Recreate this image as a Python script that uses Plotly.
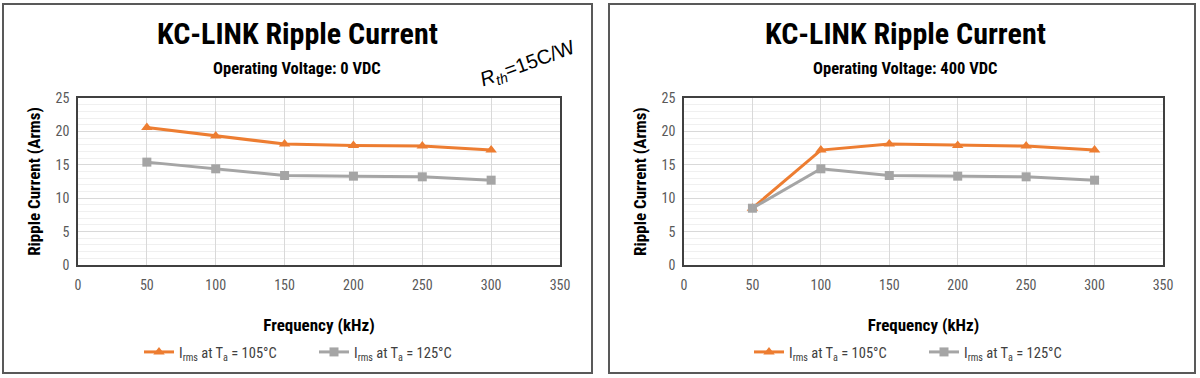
import plotly.graph_objects as go

freq = [50, 100, 150, 200, 250, 300]
left_105 = [20.6, 19.3, 18.1, 17.9, 17.8, 17.2]
left_125 = [15.4, 14.4, 13.4, 13.3, 13.2, 12.7]
right_105 = [8.5, 17.2, 18.1, 17.9, 17.8, 17.2]
right_125 = [8.5, 14.4, 13.4, 13.3, 13.2, 12.7]
titles = ["KC-LINK Ripple Current", "KC-LINK Ripple Current"]
subtitles = ["Operating Voltage: 0 VDC", "Operating Voltage: 400 VDC"]
name_105 = "I<sub>rms</sub> at T<sub>a</sub> = 105°C"
name_125 = "I<sub>rms</sub> at T<sub>a</sub> = 125°C"
x_ticks = [0, 50, 100, 150, 200, 250, 300, 350]
y_ticks = [0, 5, 10, 15, 20, 25]

ORANGE = "#ED7D31"
GRAY = "#A5A5A5"
FONT = "Roboto Condensed, Liberation Sans Narrow, Roboto, sans-serif"
W, H = 1200, 378

def px(x):
    return x / W

def py(y):
    return 1 - y / H

fig = go.Figure()

panels = [
    dict(xa="x", ya="y", legend="legend", d105=left_105, d125=left_125),
    dict(xa="x2", ya="y2", legend="legend2", d105=right_105, d125=right_125),
]
for p in panels:
    fig.add_trace(go.Scatter(
        x=freq, y=p["d105"], mode="lines+markers", name=name_105,
        line=dict(color=ORANGE, width=3),
        marker=dict(symbol="triangle-up", size=10, color=ORANGE),
        xaxis=p["xa"], yaxis=p["ya"], legend=p["legend"]))
    fig.add_trace(go.Scatter(
        x=freq, y=p["d125"], mode="lines+markers", name=name_125,
        line=dict(color=GRAY, width=3),
        marker=dict(symbol="square", size=9, color=GRAY),
        xaxis=p["xa"], yaxis=p["ya"], legend=p["legend"]))

ax_common = dict(
    showline=True, mirror=True, linecolor="#404040", linewidth=1.5,
    showgrid=True, gridcolor="#D9D9D9", gridwidth=1, zeroline=False,
    tickfont=dict(family=FONT, size=14, color="#595959"),
    ticks="", automargin=False,
)
xdoms = [[px(78), px(560)], [px(684), px(1163)]]
ydom = [py(265), py(98)]

layout = dict(
    width=W, height=H,
    margin=dict(l=0, r=0, t=0, b=0),
    paper_bgcolor="white", plot_bgcolor="white",
    font=dict(family=FONT, color="#000000"),
)
for i, suffix in enumerate(["", "2"]):
    layout["xaxis" + suffix] = dict(
        ax_common, domain=xdoms[i], range=[0, 350], tickvals=x_ticks,
        anchor="y" + suffix, ticklabelstandoff=6,
        title=dict(text="<b>Frequency (kHz)</b>", font=dict(family=FONT, size=17, color="#000"), standoff=28),
    )
    layout["yaxis" + suffix] = dict(
        ax_common, domain=ydom, range=[0, 25], tickvals=y_ticks,
        anchor="x" + suffix, ticklabelstandoff=4,
        minor=dict(dtick=1, showgrid=True, gridcolor="#F0F0F0", gridwidth=1, ticks=""),
        title=dict(text="<b>Ripple Current (Arms)</b>", font=dict(family=FONT, size=17, color="#000"), standoff=11),
    )

leg_common = dict(
    orientation="h", yanchor="middle", xanchor="left",
    font=dict(family=FONT, size=14.5, color="#404040"),
    bgcolor="rgba(0,0,0,0)", entrywidth=130, entrywidthmode="pixels",
)
layout["legend"] = dict(leg_common, x=px(139), y=py(352))
layout["legend2"] = dict(leg_common, x=px(749), y=py(352))

fig.update_layout(**layout)

centers = [297, 905]
for i in range(2):
    fig.add_annotation(x=px(centers[i]), y=py(33), xref="paper", yref="paper",
                       xanchor="center", yanchor="middle",
                       text="<b>" + titles[i] + "</b>", showarrow=False,
                       font=dict(family=FONT, size=30, color="#000"))
    fig.add_annotation(x=px(centers[i]), y=py(68), xref="paper", yref="paper",
                       xanchor="center", yanchor="middle",
                       text="<b>" + subtitles[i] + "</b>", showarrow=False,
                       font=dict(family=FONT, size=16.5, color="#000"))

fig.add_annotation(x=px(527), y=py(64), xref="paper", yref="paper",
                   xanchor="center", yanchor="middle",
                   text="<i>R<sub>th</sub></i>=15C/W", showarrow=False, textangle=-20,
                   font=dict(family="Liberation Sans, Arial, sans-serif", size=20, color="#000"))

for (x0, x1) in [(3, 592), (609, 1195)]:
    fig.add_shape(type="rect", xref="paper", yref="paper",
                  x0=px(x0), x1=px(x1), y0=py(373), y1=py(4),
                  line=dict(color="#595959", width=2), fillcolor="rgba(0,0,0,0)")

fig.write_html("out.html", config={"displayModeBar": False},
               post_script="document.body.style.margin='0px';document.body.style.overflow='hidden';")
